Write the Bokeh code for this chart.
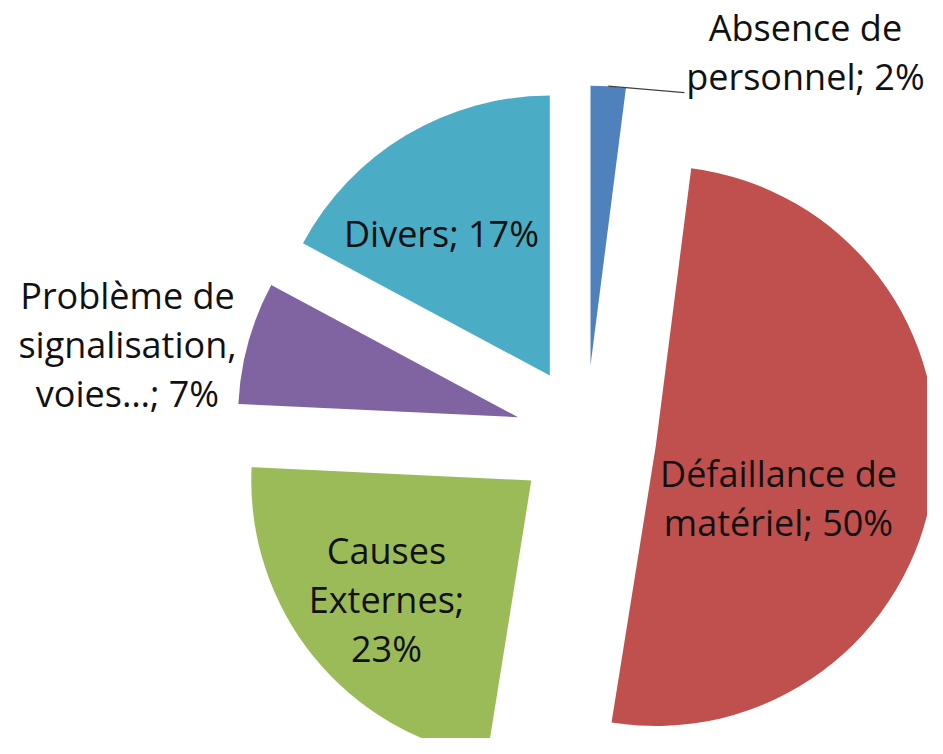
import math
import textwrap
from bokeh.plotting import figure
from bokeh.models import Range1d
from bokeh.embed import file_html
from bokeh.resources import INLINE
from bokeh.core.properties import value

# ---- data ----
categories = ["Absence de personnel", "Défaillance de matériel", "Causes Externes",
              "Problème de signalisation, voies…", "Divers"]
percent = [2, 50, 23, 7, 17]
colors = ["#4F81BD", "#C0504D", "#9BBB59", "#8064A2", "#4BACC6"]

# ---- layout (pixel space of the reference picture) ----
PAGE_H = 754
W, H = 927, 738
CX, CY = 585.5, PAGE_H - 435.5   # pie centre (data coords, y up)
R = 280.0                        # radius
EXPLODE = 70.5                   # explosion distance
wrap_width = [14, 14, 9, 14, 14]
# label placement: (fraction of radius from slice apex, angle shift in degrees)
label_pos = [(1.356, 30.85), (0.478, 15.4), (0.673, -0.7), (1.418, -5.1), (0.634, -6.7)]
FONT = "Open Sans"
FONT_PX = 36
LINE_SP = 49
CAP = 0.714 * FONT_PX
TEXT_DY = 14  # rendering correction for the text baseline

p = figure(width=W, height=H, output_backend="svg", toolbar_location=None,
           x_range=Range1d(0, W), y_range=Range1d(PAGE_H - H, PAGE_H),
           min_border=0, outline_line_color=None, background_fill_color="white",
           border_fill_color="white")
p.axis.visible = False
p.grid.visible = False

total = float(sum(percent))
start = 0.0
tx, ty, tt = [], [], []
for i, (cat, v, col) in enumerate(zip(categories, percent, colors)):
    span = 360.0 * v / total
    t0, t1 = start, start + span
    start = t1
    tm = (t0 + t1) / 2.0
    # apex of exploded slice
    ax = CX + EXPLODE * math.sin(math.radians(tm))
    ay = CY + EXPLODE * math.cos(math.radians(tm))
    p.wedge(x=[ax], y=[ay], radius=R,
            start_angle=[math.radians(90 - t1)], end_angle=[math.radians(90 - t0)],
            fill_color=col, line_color=None)
    # label
    rf, dth = label_pos[i]
    la = math.radians(tm + dth)
    lx = ax + rf * R * math.sin(la)
    ly = ay + rf * R * math.cos(la)
    lines = textwrap.wrap(f"{cat}; {v}%", wrap_width[i])
    n = len(lines)
    for j, ln in enumerate(lines):
        tx.append(lx)
        ty.append(ly + ((n - 1) / 2.0 - j) * LINE_SP - CAP / 2.0 + TEXT_DY)
        tt.append(ln)
    if rf > 1.2 and i == 0:
        # leader line from slice outer mid to label
        sx = ax + R * math.sin(math.radians(tm))
        sy = ay + R * math.cos(math.radians(tm))
        ex = lx - 121
        ey = ly - 40
        p.line(x=[sx, ex], y=[sy, ey], line_color="#404040", line_width=1.2)

p.text(x=tx, y=ty, text=tt, text_font=value(FONT), text_font_size=f"{FONT_PX}px",
       text_align="center", text_baseline="alphabetic", text_color="#111111")

open("out.html", "w").write(file_html(p, INLINE))
